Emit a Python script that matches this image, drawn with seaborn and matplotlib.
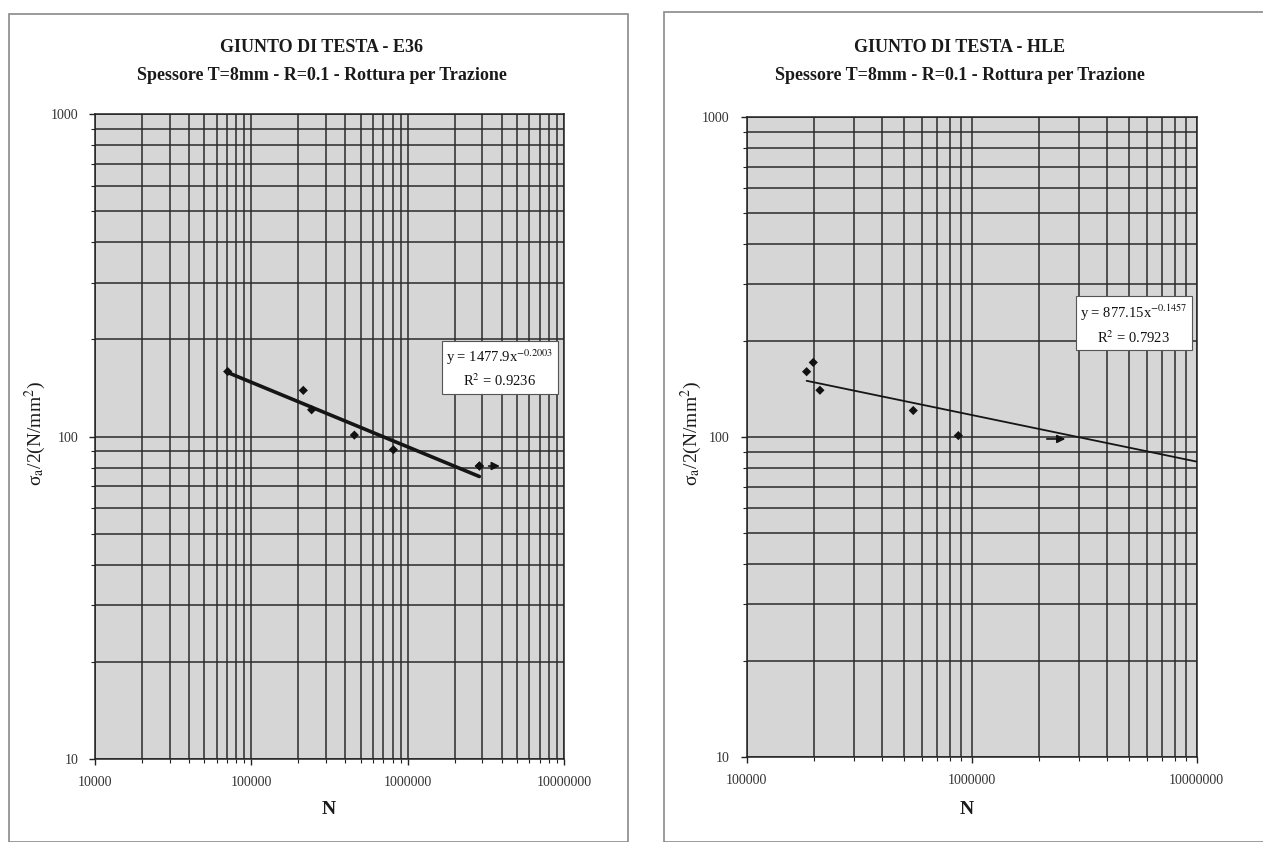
import numpy as np
import pandas as pd
import matplotlib
matplotlib.use("Agg")
import matplotlib.pyplot as plt
import matplotlib.ticker as mticker
from matplotlib.patches import Rectangle
import seaborn as sns

# --- dati ---
# E36
e36_N = [70600, 215000, 243000, 456000, 810000, 2875000]
e36_S = [159, 139, 121, 101, 91, 81]
e36_runout_N = [2875000]
e36_runout_S = [81]
e36_coef, e36_exp, e36_r2 = 1477.9, -0.2003, 0.9236
e36_fit_range = [70600, 2875000]

# HLE
hle_N = [185000, 198000, 212000, 551000, 874000]
hle_S = [160, 171, 140, 121, 101]
hle_runout_N = [2100000]
hle_runout_S = [98.6]
hle_coef, hle_exp, hle_r2 = 877.15, -0.1457, 0.7923
hle_fit_range = [185000, 10000000]

titles = ["GIUNTO DI TESTA - E36", "GIUNTO DI TESTA - HLE"]
subtitle = "Spessore T=8mm - R=0.1 - Rottura per Trazione"
x_limits = [(1e4, 1e7), (1e5, 1e7)]

sns.set_theme(style="white")
plt.rcParams["font.family"] = ["Liberation Serif", "DejaVu Serif"]
plt.rcParams["mathtext.fontset"] = "stix"

fig = plt.figure(figsize=(12.63, 8.42), dpi=100)

def px(x0, y0, x1, y1):
    # pixel box -> figure fraction [left, bottom, width, height]
    return [x0 / 1263, 1 - y1 / 842, (x1 - x0) / 1263, (y1 - y0) / 842]

ax1 = fig.add_axes(px(95, 114, 564, 759))
ax2 = fig.add_axes(px(746.5, 117, 1196.5, 757))

# cornici dei due grafici
fig.patches.append(Rectangle((9 / 1263, 0), 619 / 1263, 1 - 14 / 842, transform=fig.transFigure,
                             fill=False, ec="#8a8a8a", lw=1.2))
fig.patches.append(Rectangle((664 / 1263, 0), 620 / 1263, 1 - 12 / 842, transform=fig.transFigure,
                             fill=False, ec="#8a8a8a", lw=1.2))

panels = [
    (ax1, e36_N, e36_S, e36_runout_N, e36_runout_S, e36_coef, e36_exp, e36_r2, e36_fit_range, 2.6, True),
    (ax2, hle_N, hle_S, hle_runout_N, hle_runout_S, hle_coef, hle_exp, hle_r2, hle_fit_range, 1.3, False),
]
box_pos = [(0.8635, 0.606), (0.861, 0.676)]
title_x = [322 / 1263, 960 / 1263]
ylab_x = [35 / 1263, 691 / 1263]
xlab_x = [329 / 1263, 967 / 1263]

for i, (ax, N, S, rN, rS, c, b, r2, fr, lw, show_rmark) in enumerate(panels):
    ax.set_facecolor("#d6d6d6")
    fit_x = np.geomspace(fr[0], fr[1], 50)
    fit = pd.DataFrame({"N": fit_x, "S": c * fit_x ** b})
    pts = pd.DataFrame({"N": N, "S": S})
    sns.lineplot(data=fit, x="N", y="S", ax=ax, color="#151515", lw=lw, zorder=4)
    sns.scatterplot(data=pts, x="N", y="S", ax=ax, marker="D", s=22, color="#111111",
                    edgecolor="none", zorder=5)
    if show_rmark:
        sns.scatterplot(x=rN, y=rS, ax=ax, marker="D", s=22, color="#111111",
                        edgecolor="none", zorder=5)
    for n, s in zip(rN, rS):
        start = n * 1.1 if show_rmark else n
        ax.annotate("", xy=(start * 1.28, s), xytext=(start, s),
                    arrowprops=dict(arrowstyle="-|>", color="#111111", lw=1.2,
                                    mutation_scale=12), zorder=6)

    ax.set_xscale("log")
    ax.set_yscale("log")
    ax.set_xlim(*x_limits[i])
    ax.set_ylim(10, 1000)
    ax.grid(True, which="both", color="#2b2b2b", lw=1.1)
    ax.set_axisbelow(True)
    for sp in ax.spines.values():
        sp.set_color("#222222")
        sp.set_linewidth(1.1)

    fmt = mticker.FuncFormatter(lambda v, p: f"{int(round(v))}")
    ax.xaxis.set_major_formatter(fmt)
    ax.yaxis.set_major_formatter(fmt)
    ax.xaxis.set_minor_formatter(mticker.NullFormatter())
    ax.yaxis.set_minor_formatter(mticker.NullFormatter())
    ax.tick_params(which="major", direction="out", length=4, width=1, color="#222222",
                   labelsize=10, labelcolor="#333333", pad=8, bottom=True, left=True)
    ax.tick_params(which="minor", direction="out", length=3, width=0.8, color="#222222",
                   bottom=True, left=True)
    ax.set_xlabel("")
    ax.set_ylabel("")

    eq = f"y = {c}x$^{{{b}}}$\n" + r"R$^2$" + f" = {r2}"
    ax.text(box_pos[i][0], box_pos[i][1], eq, transform=ax.transAxes, ha="center",
            va="center", fontsize=10.5, color="#111111", linespacing=1.45, zorder=7,
            bbox=dict(boxstyle="square,pad=0.3", fc="white", ec="#555555", lw=0.8))

    fig.text(title_x[i], 1 - 48 / 842, titles[i], ha="center", va="center",
             fontsize=13, fontweight="bold", color="#1a1a1a")
    fig.text(title_x[i], 1 - 75 / 842, subtitle, ha="center", va="center",
             fontsize=13, fontweight="bold", color="#1a1a1a")
    fig.text(ylab_x[i], 1 - 433 / 842, r"σ$_\mathrm{a}$/2(N/mm$^2$)", rotation=90,
             ha="center", va="center", fontsize=14, color="#1a1a1a")
    fig.text(xlab_x[i], 1 - 810 / 842, "N", ha="center", va="center",
             fontsize=14, fontweight="bold", color="#1a1a1a")

fig.savefig("out.png", dpi=100)
